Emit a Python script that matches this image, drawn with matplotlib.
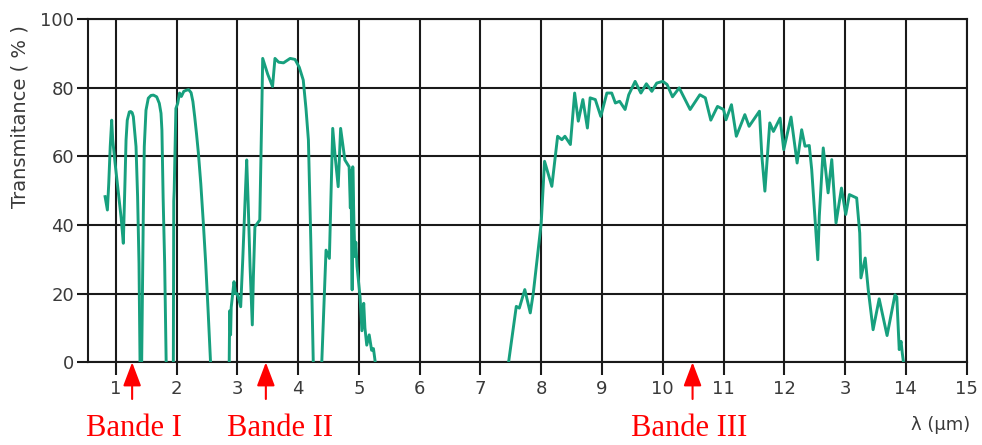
import numpy as np
import matplotlib
matplotlib.use("Agg")
import matplotlib.pyplot as plt

# spectre de transmittance atmospherique (lambda en um, T en %)
lam_a = [0.825, 0.863, 0.885, 0.91, 0.934, 0.95, 0.99, 1.04, 1.09, 1.125, 1.153, 1.17, 1.19, 1.224, 1.247,
         1.27, 1.29, 1.334, 1.36, 1.383, 1.40]
T_a = [48.3, 44.4, 52.0, 63.0, 70.6, 65.0, 58.0, 50.0, 42.0, 34.7, 53.0, 64.8, 70.6, 73.0, 73.1,
       72.8, 71.6, 62.9, 48.3, 28.9, 0.0]

lam_b = [1.427, 1.454, 1.47, 1.498, 1.536, 1.58, 1.62, 1.674, 1.717, 1.745, 1.76, 1.78, 1.805, 1.83]
T_b = [0.0, 43.5, 62.9, 73.5, 77.0, 77.8, 77.9, 77.4, 75.5, 72.6, 67.7, 48.0, 29.0, 0.0]

lam_c = [1.948, 1.955, 1.962, 1.99, 2.02, 2.05, 2.08, 2.12, 2.16, 2.20, 2.24, 2.27, 2.30, 2.33, 2.36,
         2.40, 2.44, 2.48, 2.52, 2.56]
T_c = [0.0, 47.0, 50.0, 74.0, 75.5, 78.5, 77.5, 79.0, 79.3, 79.5, 78.6, 76.0, 71.5, 66.5, 61.0,
       52.0, 41.0, 29.0, 15.0, 0.0]

lam_d = [2.867, 2.875, 2.89, 2.90, 2.946, 2.97, 3.0, 3.056, 3.09, 3.13, 3.155, 3.18, 3.21, 3.247, 3.265,
         3.29, 3.33, 3.37, 3.40, 3.418, 3.50, 3.58, 3.62, 3.68, 3.76, 3.87, 3.95, 4.02, 4.085, 4.13,
         4.17, 4.21, 4.25]
T_d = [0.0, 15.0, 8.0, 16.0, 23.5, 20.0, 20.0, 16.2, 30.0, 48.0, 59.0, 46.0, 28.0, 10.9, 25.0,
       39.5, 40.5, 41.5, 70.0, 88.6, 84.0, 80.4, 88.6, 87.5, 87.3, 88.6, 88.3, 86.0, 82.3, 74.0,
       64.8, 35.0, 0.0]

lam_e = [4.39, 4.46, 4.515, 4.57, 4.61, 4.66, 4.70, 4.77, 4.84, 4.86, 4.87, 4.89, 4.90, 4.92, 4.935,
         4.95, 4.97, 5.02, 5.05, 5.08, 5.10, 5.13, 5.17, 5.21, 5.24, 5.27]
T_e = [0.0, 32.7, 30.3, 68.2, 60.0, 51.2, 68.2, 59.0, 57.0, 45.0, 56.0, 21.1, 57.0, 40.0, 30.8,
       35.0, 28.0, 19.0, 9.2, 17.2, 10.0, 5.0, 8.0, 3.5, 4.0, 0.0]

lam_f = [7.463, 7.59, 7.64, 7.73, 7.82, 7.87, 8.0, 8.055, 8.175, 8.27, 8.34, 8.39, 8.48, 8.55, 8.61,
         8.685, 8.76, 8.805, 8.89, 8.98, 9.08, 9.16, 9.22, 9.29, 9.38, 9.44, 9.545, 9.64, 9.73, 9.82,
         9.90, 10.0, 10.07, 10.16, 10.27, 10.45, 10.61, 10.70, 10.79, 10.90, 11.0, 11.04, 11.13, 11.21, 11.35,
         11.42, 11.59, 11.63, 11.68, 11.76, 11.82, 11.93, 11.99, 12.11, 12.21, 12.285, 12.34, 12.41, 12.45, 12.55,
         12.575, 12.64, 12.72, 12.78, 12.85, 12.94, 13.01, 13.07, 13.19, 13.24, 13.26, 13.33, 13.38, 13.46, 13.56,
         13.69, 13.82, 13.85, 13.89, 13.92, 13.94, 13.96]
T_f = [0.0, 16.3, 15.8, 21.2, 14.4, 20.2, 40.6, 58.6, 51.3, 65.9, 64.9, 65.9, 63.5, 78.5, 70.3,
       76.6, 68.3, 77.1, 76.6, 71.7, 78.5, 78.5, 75.6, 76.1, 73.7, 78.0, 81.9, 78.5, 81.2, 79.0,
       81.4, 81.9, 81.0, 77.4, 80.0, 73.7, 78.0, 77.1, 70.6, 74.6, 73.7, 70.7, 75.1, 65.9, 72.2,
       68.8, 73.2, 60.1, 49.9, 69.8, 67.3, 71.2, 62.0, 71.5, 58.1, 67.8, 63.0, 63.2, 56.2, 29.9,
       42.6, 62.5, 49.4, 59.1, 40.6, 50.8, 43.1, 48.9, 47.9, 37.7, 24.6, 30.4, 21.2, 9.5, 18.5,
       7.8, 19.7, 19.0, 3.7, 6.1, 2.7, 0.0]

segments = [(lam_a, T_a), (lam_b, T_b), (lam_c, T_c), (lam_d, T_d), (lam_e, T_e), (lam_f, T_f)]

x_ticks = list(range(1, 16))
x_labels = ['1', '2', '3', '4', '5', '6', '7', '8', '9', '10', '11', '12', '3', '14', '15']
y_ticks = [0, 20, 40, 60, 80, 100]

bandes = ['Bande I', 'Bande II', 'Bande III']
bande_arrow_x = [1.27, 3.47, 10.49]
bande_text_x = [1.30, 3.70, 10.43]

fig = plt.figure(figsize=(9.82, 4.45), dpi=100)
ax = fig.add_axes([88 / 982, 1 - 362.3 / 445, (966.7 - 88) / 982, (362.3 - 19.3) / 445])

for lam, T in segments:
    ax.plot(lam, T, color='#17a07e', lw=2.1, solid_joinstyle='round', zorder=3)

ax.set_xlim(0.544, 15)
ax.set_ylim(0, 100)
ax.set_xticks(x_ticks)
ax.set_xticklabels(x_labels)
ax.set_yticks(y_ticks)
ax.grid(True, color='#1a1a1a', lw=1.5, zorder=1)
for s in ax.spines.values():
    s.set_color('#1a1a1a')
    s.set_linewidth(1.5)
ax.tick_params(axis='x', length=9, width=1.5, color='#1a1a1a', pad=4, labelsize=13, labelcolor='#3a3a3a')
ax.tick_params(axis='y', length=8, width=1.5, color='#1a1a1a', pad=2, labelsize=13, labelcolor='#3a3a3a')

fig.text(20 / 982, 1 - 117 / 445, 'Transmitance ( % )', rotation=90, ha='center', va='center',
         fontsize=14, color='#3a3a3a')
fig.text(941 / 982, 1 - 425 / 445, 'λ (µm)', ha='center', va='center', fontsize=13, color='#3a3a3a')

for name, xa, xt in zip(bandes, bande_arrow_x, bande_text_x):
    ax.annotate('', xy=(xa, 0), xytext=(xa, -10.7), annotation_clip=False,
                arrowprops=dict(arrowstyle='-|>,head_length=1.45,head_width=0.55', mutation_scale=10,
                                color='red', lw=1.5, shrinkA=0, shrinkB=0))
    ax.text(xt, -19.3, name, ha='center', va='center', color='red', fontsize=22,
            family='Liberation Serif', clip_on=False)

fig.savefig('out.png', dpi=100)
